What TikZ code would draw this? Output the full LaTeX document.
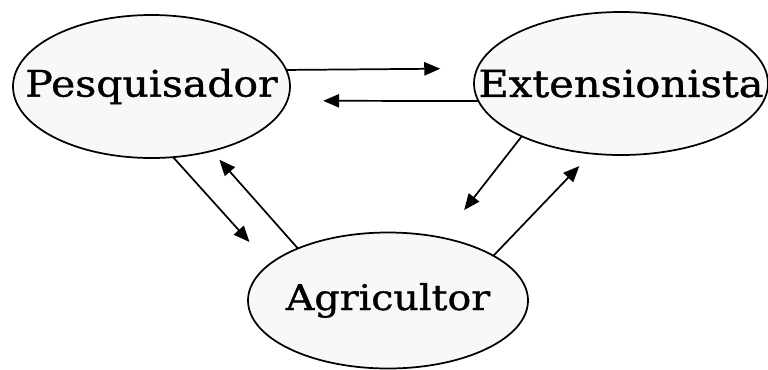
\documentclass[tikz,border=0pt]{standalone}
\usepackage{fontspec}
\setmainfont{DejaVu Serif}
\newfontfamily\actorfont[FakeStretch=1.12,FakeBold=1]{DejaVu Serif}
\usetikzlibrary{shapes.geometric,arrows.meta}
\definecolor{SpeckleGray}{RGB}{248,248,248}

\tikzset{
  actor/.style={ellipse, draw=black, line width=1.3pt, fill=SpeckleGray, inner sep=0pt, outer sep=0pt},
  flow/.style={-{Triangle[length=12pt,width=10pt]}, line width=1.3pt},
}

\begin{document}
\begin{tikzpicture}[x=0.75pt, y=-0.75pt]
\useasboundingbox (0,0) rectangle (768,369); % page, in px of the scan

\node[actor, minimum width=207.75pt, minimum height=107.25pt,
  label={center:\actorfont\fontsize{27.4}{32}\selectfont Pesquisador}] (pesq) at (151.5,86.5) {}; % left
\node[actor, minimum width=220.5pt, minimum height=107.25pt,
  label={center:\actorfont\fontsize{27.9}{32}\selectfont Extensionista}] (ext) at (621,83.5) {}; % right
\node[actor, minimum width=210pt, minimum height=102pt,
  label={center:\actorfont\fontsize{26.5}{31}\selectfont Agricultor}] (agri) at (388,300.5) {}; % bottom

% top pair
\draw[flow, shorten >=27.8pt] (pesq.7.42) -- (ext.174.25);
\draw[flow, shorten >=27pt] (ext.187) -- (pesq.-6.1);
% left pair
\draw[flow, shorten >=22.5pt] (pesq.-73.5) -- (agri.163.8);
\draw[flow, shorten >=8.8pt] (agri.150.3) -- (pesq.-47.8);
% right pair
\draw[flow, shorten >=26.5pt] (ext.208.2) -- (agri.49.8);
\draw[flow, shorten >=13pt] (agri.23.2) -- (ext.247.5);

\end{tikzpicture}
\end{document}
